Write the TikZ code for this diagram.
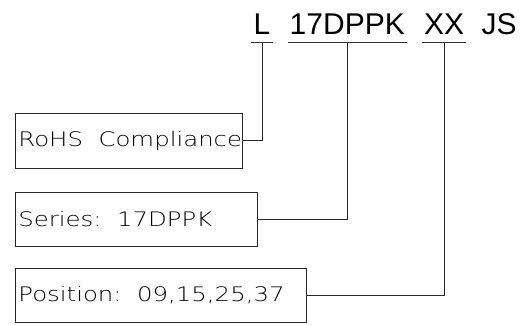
\documentclass[tikz,border=0pt]{standalone}
\usepackage{fontspec}
\setmainfont{Liberation Sans}
\newfontfamily\boxfont[FakeStretch=1.22]{DejaVu Sans ExtraLight}
\usetikzlibrary{positioning}

\begin{document}
\begin{tikzpicture}[
  x=1pt, y=1pt,
  codepart/.style={
    font=\fontsize{30}{36}\selectfont, anchor=south,
    inner xsep=2pt, inner ysep=8pt, text height=21.5pt, text depth=0pt
  },
  infobox/.style={
    rectangle, draw=black!85, anchor=north west,
    minimum height=54pt, inner xsep=3pt, line width=0.8pt,
    font=\boxfont\fontsize{20}{22}\selectfont
  },
  uline/.style={draw=black!80, line width=1pt},
  link/.style={draw=black!85, line width=0.8pt},
  node distance=15pt
]
\useasboundingbox (0,0) rectangle (528,326);
\node[codepart] (L) at (262,283) {L};
\node[codepart, right=of L] (dppk) {17DPPK};
\node[codepart, right=of dppk] (xx) {XX};
\node[codepart, right=of xx, xshift=-2pt] (js) {JS};
\foreach \c in {L, dppk, xx}
  \draw[uline] (\c.south west) -- (\c.south east);
\node[infobox, minimum height=55pt] (rohs) at (15,213)
  {\makebox[221pt][l]{RoHS\ \ Compliance}};
\node[infobox] (series) at (15,134)
  {\makebox[236pt][l]{Series:\ \ 17DPPK}};
\node[infobox] (position) at (15,58)
  {\makebox[285pt][l]{Position:\ \ 09,15,25,37}};
\foreach \b/\c in {rohs/L, series/dppk, position/xx}
  \draw[link] (\b.east) -| (\c.south);
\end{tikzpicture}
\end{document}
